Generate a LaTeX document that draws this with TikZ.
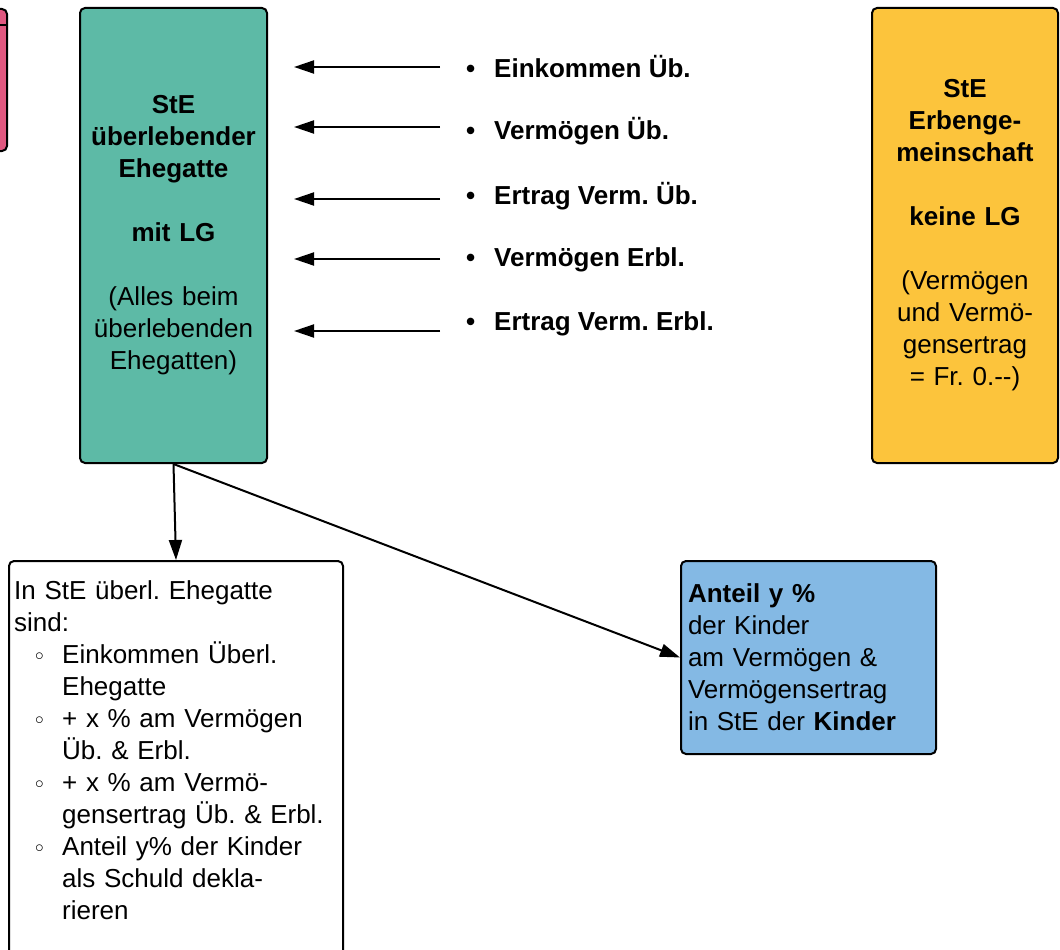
\documentclass[tikz,border=0pt]{standalone}
\usepackage{fontspec}
\setmainfont{Liberation Sans}
\usepackage{tikz}
\usetikzlibrary{positioning,arrows.meta,calc}
\definecolor{cSte}{HTML}{5DBAA6}
\definecolor{cErb}{HTML}{FCC43C}
\definecolor{cKid}{HTML}{84B9E4}
\definecolor{cPre}{HTML}{E05880}
\newcommand{\wb}{\raisebox{3pt}{$\scriptstyle\circ$}}
\frenchspacing

\begin{document}
\begin{tikzpicture}[
  x=1pt, y=-1pt,
  font=\fontsize{26}{32}\selectfont,
  blk/.style={draw=black, line width=2pt, rounded corners=5pt, inner sep=0pt},
  ste/.style={blk, fill=cSte, minimum width=187pt, minimum height=455pt,
              text width=180pt, align=center},
  erb/.style={blk, fill=cErb, minimum width=186pt, minimum height=455pt,
              text width=180pt, align=center},
  kid/.style={blk, fill=cKid, text width=241pt, inner xsep=7pt,
              minimum height=193pt, align=left},
  itm/.style={anchor=west, inner sep=0pt, font=\fontsize{26}{32}\selectfont\bfseries},
  ar/.style ={-{Triangle[length=20pt,width=13pt]}, draw=black, line width=2pt},
]
\useasboundingbox (0,0) rectangle (1060,950);
\clip (0,0) rectangle (1060,950);

\node[blk, fill=cPre, minimum width=120pt, minimum height=142pt, anchor=north east] (pre) at (8,8) {};
\draw[line width=2pt] ($(pre.north west)+(0,17)$) -- ($(pre.north east)+(0,17)$);

\node[ste] (ste) at (173.5,235.5)
  {{\bfseries StE\\überlebender\\Ehegatte\\[32pt]mit LG}\\[32pt]
   (Alles beim\\überlebenden\\Ehegatten)};

\node[erb] (erb) at (965,235.5)
  {{\bfseries StE\\Erbenge-\\meinschaft\\[32pt]keine LG}\\[32pt]
   (Vermögen\\und Vermö-\\gensertrag\\= Fr. 0.-\kern0pt-)};

\node[itm] (i1) at (466,67)  {\makebox[28pt][l]{\textbullet}Einkommen Üb.};
\node[itm] (i2) at (466,131) {\makebox[28pt][l]{\textbullet}Vermögen Üb.};
\node[itm] (i3) at (466,196) {\makebox[28pt][l]{\textbullet}Ertrag Verm. Üb.};
\node[itm] (i4) at (466,260) {\makebox[28pt][l]{\textbullet}Vermögen Erbl.};
\node[itm] (i5) at (466,324) {\makebox[28pt][l]{\textbullet}Ertrag Verm. Erbl.};

% inflows into the surviving spouse
\foreach \i/\y in {1/67,2/127,3/199,4/259,5/331}{
  \coordinate (q\i) at (440,\y);
  \draw[ar, shorten >=26pt] (q\i) -- (q\i -| ste.east);
}

\node[blk, fill=white, minimum width=334pt, minimum height=420pt, anchor=north west] (ue) at (8,560) {};
\node[anchor=north west, inner sep=0pt, text width=322pt, align=left] (uetx)
  at ($(ue.north west)+(6,20)$)
  {In StE überl. Ehegatte\\
   sind:\\
   \hspace*{21pt}\makebox[27pt][l]{\wb}Einkommen Überl.\\
   \hspace*{48pt}Ehegatte\\
   \hspace*{21pt}\makebox[27pt][l]{\wb}+ x \% am Vermögen\\
   \hspace*{48pt}Üb. \& Erbl.\\
   \hspace*{21pt}\makebox[27pt][l]{\wb}+ x \% am Vermö-\\
   \hspace*{48pt}gensertrag Üb. \& Erbl.\\
   \hspace*{21pt}\makebox[27pt][l]{\wb}Anteil y\% der Kinder\\
   \hspace*{48pt}als Schuld dekla-\\
   \hspace*{48pt}rieren};

\node[kid, anchor=north west] (kid) at (680,560)
  {\textbf{Anteil y \%}\\der Kinder\\am Vermögen \&\\Vermögensertrag\\in StE der \textbf{Kinder}};

\draw[ar] (ste.south) -- (ue.north);
\draw[ar] (ste.south) -- (kid.west);
\end{tikzpicture}
\end{document}
